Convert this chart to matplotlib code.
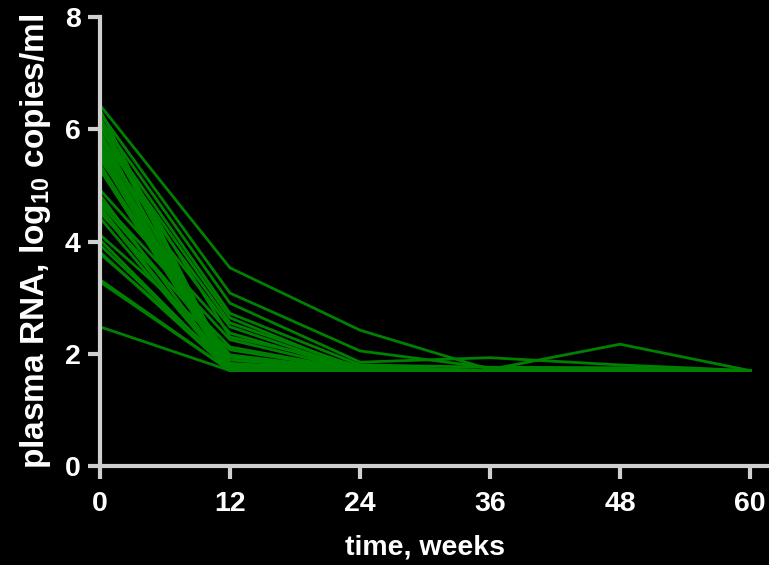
import matplotlib
matplotlib.use('Agg')
import matplotlib.pyplot as plt
import numpy as np

# time points (weeks)
weeks = [0, 12, 24, 36, 48, 60]

# plasma RNA, log10 copies/ml, one entry per subject
wk0 = [6.43, 6.35, 6.29, 6.22, 6.17, 6.11, 6.04, 5.95, 5.90, 5.85, 5.76, 5.72,
       5.67, 5.58, 5.51, 5.45, 5.37, 5.31, 5.28, 4.92, 4.83, 4.74, 4.62, 4.51,
       4.42, 4.12, 4.03, 3.81, 3.78, 3.32, 3.28, 2.48,
       6.03, 5.63, 4.69, 4.56, 3.94]
wk12 = [3.53, 1.70, 3.08, 1.70, 2.90, 1.77, 2.72, 1.70, 2.64, 1.83, 1.70, 2.55,
        1.70, 1.89, 1.70, 2.48, 1.70, 1.94, 1.70, 2.37, 1.70, 2.25, 1.70, 2.12,
        1.70, 2.07, 1.70, 1.70, 1.80, 1.70, 1.70, 1.70,
        2.30, 1.70, 1.98, 1.70, 1.74]
wk24 = [2.42, 1.70, 2.05, 1.70, 1.85, 1.70, 1.80, 1.70, 1.70, 1.70, 1.70, 1.75,
        1.70, 1.70, 1.70, 1.70, 1.70, 1.70, 1.70, 1.70, 1.70, 1.70, 1.70, 1.70,
        1.70, 1.70, 1.70, 1.70, 1.70, 1.70, 1.70, 1.70,
        1.78, 1.70, 1.70, 1.70, 1.70]
wk36 = [1.72, 1.70, 1.75, 1.70, 1.93, 1.70, 1.76, 1.70, 1.70, 1.70, 1.70, 1.70,
        1.70, 1.70, 1.70, 1.70, 1.70, 1.70, 1.70, 1.70, 1.70, 1.70, 1.70, 1.70,
        1.70, 1.70, 1.70, 1.70, 1.70, 1.70, 1.70, 1.70,
        1.70, 1.70, 1.70, 1.70, 1.70]
wk48 = [2.17, 1.70, 1.70, 1.70, 1.80, 1.70, 1.75, 1.70, 1.70, 1.70, 1.70, 1.70,
        1.70, 1.70, 1.70, 1.70, 1.70, 1.70, 1.70, 1.70, 1.70, 1.70, 1.70, 1.70,
        1.70, 1.70, 1.70, 1.70, 1.70, 1.70, 1.70, 1.70,
        1.70, 1.70, 1.70, 1.70, 1.70]
wk60 = [1.70] * 37

xlabel = 'time, weeks'
ylabel = r'plasma RNA, log$_{\mathbf{10}}$ copies/ml'

plt.rcParams['font.family'] = ['Liberation Sans', 'DejaVu Sans']
plt.rcParams['font.weight'] = 'bold'
plt.rcParams['mathtext.fontset'] = 'custom'
plt.rcParams['mathtext.rm'] = 'Liberation Sans:bold'
plt.rcParams['mathtext.bf'] = 'Liberation Sans:bold'

axis_col = '#d0d0d0'

fig = plt.figure(figsize=(7.69, 5.65), dpi=100, facecolor='black')
ax = fig.add_axes([100 / 769, 99 / 565, 669 / 769, 449 / 565], facecolor='black')

data = np.array([wk0, wk12, wk24, wk36, wk48, wk60])
for i in range(data.shape[1]):
    ax.plot(weeks, data[:, i], color='#008000', linewidth=2.0, clip_on=False)

ax.set_xlim(0, 61.75)
ax.set_ylim(0, 8)
ax.set_xticks([0, 12, 24, 36, 48, 60])
ax.set_yticks([0, 2, 4, 6, 8])

for s in ['top', 'right']:
    ax.spines[s].set_visible(False)
for s in ['left', 'bottom']:
    ax.spines[s].set_color(axis_col)
    ax.spines[s].set_linewidth(3)

ax.tick_params(axis='both', colors=axis_col, width=3, length=9, direction='out',
               labelsize=20.5, labelcolor='white')
ax.tick_params(axis='x', pad=9)
ax.tick_params(axis='y', pad=5)
for label in ax.get_xticklabels() + ax.get_yticklabels():
    label.set_fontweight('bold')

ax.set_xlabel(xlabel, color='white', fontsize=20.5, fontweight='bold')
ax.xaxis.set_label_coords(0.486, -0.152)
ax.set_ylabel(ylabel, color='white', fontsize=24, fontweight='bold')
ax.yaxis.set_label_coords(-0.07, 0.5)

plt.savefig('out.png', dpi=100, facecolor='black')
